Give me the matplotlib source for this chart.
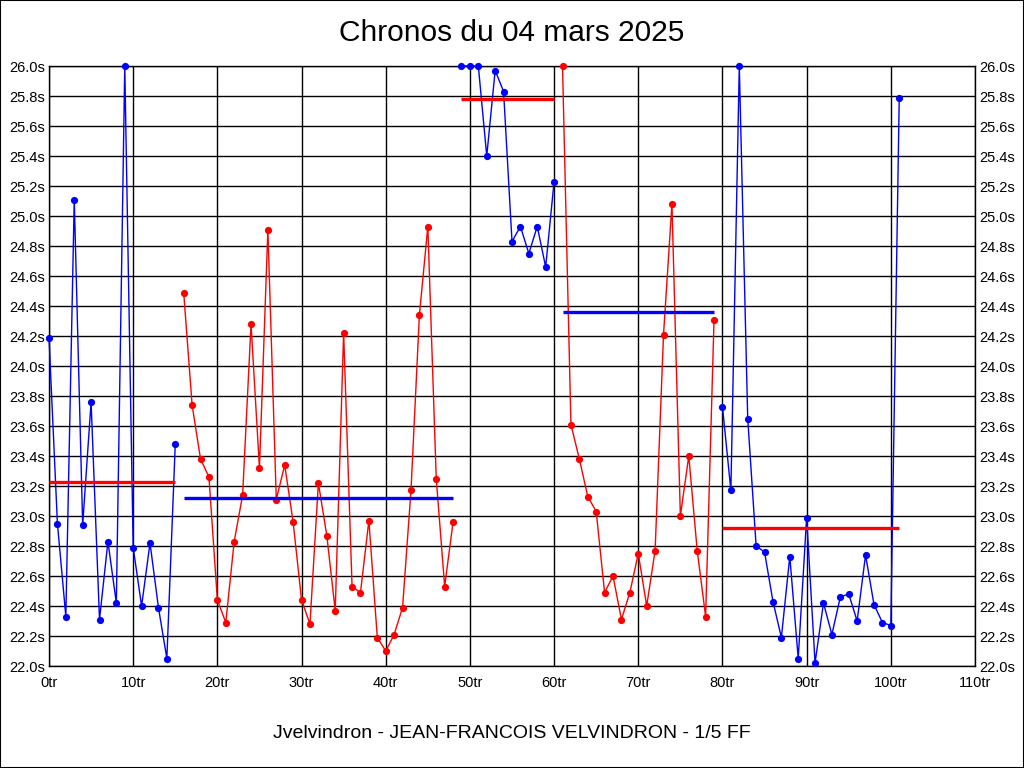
import matplotlib
matplotlib.use("Agg")
import matplotlib.pyplot as plt
from matplotlib.patches import Rectangle

# -----------------------------
# Data (lap times in seconds, one list per run)
# -----------------------------
run1_start = 0
run1_times = [24.19, 22.95, 22.33, 25.11, 22.94, 23.76, 22.31, 22.83, 22.42, 26.00,
              22.79, 22.40, 22.82, 22.39, 22.05, 23.48]
run2_start = 16
run2_times = [24.49, 23.74, 23.38, 23.26, 22.44, 22.29, 22.83, 23.14, 24.28, 23.32,
              24.91, 23.11, 23.34, 22.96, 22.44, 22.28, 23.22, 22.87, 22.37, 24.22,
              22.53, 22.49, 22.97, 22.19, 22.10, 22.21, 22.39, 23.17, 24.34, 24.93,
              23.25, 22.53, 22.96]
run3_start = 49
run3_times = [26.00, 26.00, 26.00, 25.40, 25.97, 25.83, 24.83, 24.93, 24.75, 24.93,
              24.66, 25.23]
run4_start = 61
run4_times = [26.00, 23.61, 23.38, 23.13, 23.03, 22.49, 22.60, 22.31, 22.49, 22.75,
              22.40, 22.77, 24.21, 25.08, 23.00, 23.40, 22.77, 22.33, 24.31]
run5_start = 80
run5_times = [23.73, 23.17, 26.00, 23.65, 22.80, 22.76, 22.43, 22.19, 22.73, 22.05,
              22.99, 22.02, 22.42, 22.21, 22.46, 22.48, 22.30, 22.74, 22.41, 22.29,
              22.27, 25.79]

run_starts = [run1_start, run2_start, run3_start, run4_start, run5_start]
run_times = [run1_times, run2_times, run3_times, run4_times, run5_times]
run_averages = [23.23, 23.12, 25.78, 24.36, 22.92]
run_colors = ["#0000ff", "#ff0000", "#0000ff", "#ff0000", "#0000ff"]
avg_colors = ["#ff0000", "#0000ff", "#ff0000", "#0000ff", "#ff0000"]

title = "Chronos du 04 mars 2025"
footer = "Jvelvindron - JEAN-FRANCOIS VELVINDRON - 1/5 FF"

# -----------------------------
# Theme
# -----------------------------
plt.rcParams["font.family"] = ["Liberation Sans", "DejaVu Sans"]

fig = plt.figure(figsize=(10.24, 7.68), dpi=100)
fig.patch.set_facecolor("white")
ax = fig.add_axes([49 / 1024, 1 - 666 / 768, (975 - 49) / 1024, 600 / 768])

# -----------------------------
# Plot runs
# -----------------------------
for start, times, avg, col, acol in zip(run_starts, run_times, run_averages,
                                         run_colors, avg_colors):
    laps = list(range(start, start + len(times)))
    ax.plot(laps, times, color=col, linewidth=1.0, marker="o", markersize=5.2,
            markeredgewidth=0, clip_on=False, zorder=3)
    ax.plot([laps[0], laps[-1]], [avg, avg], color=acol, linewidth=2.4,
            solid_capstyle="butt", zorder=4)

# -----------------------------
# Axes, ticks, grid
# -----------------------------
ax.set_xlim(0, 110)
ax.set_ylim(22.0, 26.0)
xt = list(range(0, 111, 10))
yt = [22.0 + 0.2 * i for i in range(21)]
ax.set_xticks(xt)
ax.set_xticklabels([f"{v}tr" for v in xt])
ax.set_yticks(yt)
ax.set_yticklabels([f"{v:.1f}s" for v in yt])
ax.tick_params(axis="both", length=0, labelsize=10.5, colors="black")
ax.tick_params(axis="y", pad=3, labelright=True, right=False)
ax.tick_params(axis="x", pad=7)
ax.grid(True, color="black", linewidth=1.0)
ax.set_axisbelow(True)
for spine in ax.spines.values():
    spine.set_color("black")
    spine.set_linewidth(1.0)

fig.text(0.5, 1 - 33 / 768, title, ha="center", va="center", fontsize=21.5)
fig.text(0.5, 1 - 733 / 768, footer, ha="center", va="center", fontsize=14)

fig.add_artist(Rectangle((0, 0), 1, 1, transform=fig.transFigure, fill=False,
                         edgecolor="black", linewidth=1.5))

fig.savefig("out.png", dpi=100)
